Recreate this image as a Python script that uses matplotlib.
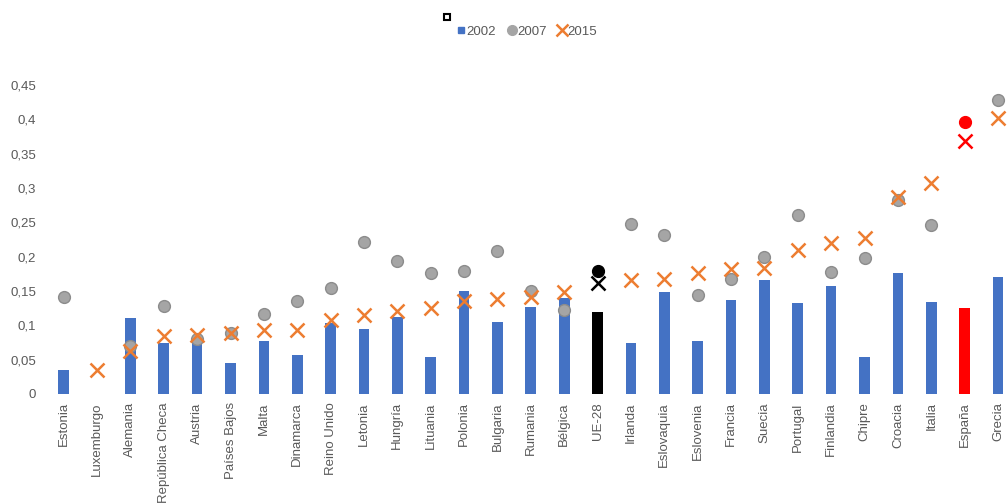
import numpy as np
import matplotlib.pyplot as plt
from matplotlib.lines import Line2D

plt.rcParams['font.family'] = ['Liberation Sans', 'DejaVu Sans']

# Countries, ordered as in the chart
paises = ['Estonia', 'Luxemburgo', 'Alemania', 'República Checa', 'Austria',
          'Países Bajos', 'Malta', 'Dinamarca', 'Reino Unido', 'Letonia',
          'Hungría', 'Lituania', 'Polonia', 'Bulgaria', 'Rumania', 'Bélgica',
          'UE-28', 'Irlanda', 'Eslovaquia', 'Eslovenia', 'Francia', 'Suecia',
          'Portugal', 'Finlandia', 'Chipre', 'Croacia', 'Italia', 'España', 'Grecia']

# Values (nan = not shown)
v2002 = [0.035, np.nan, 0.111, 0.074, 0.074, 0.045, 0.077, 0.057, 0.103, 0.094,
         0.112, 0.054, 0.150, 0.105, 0.126, 0.140, 0.119, 0.074, 0.148, 0.077,
         0.137, 0.166, 0.132, 0.157, 0.054, 0.176, 0.134, 0.125, 0.170]
v2007 = [0.141, np.nan, 0.070, 0.128, 0.080, 0.089, 0.116, 0.135, 0.154, 0.221,
         0.194, 0.176, 0.179, 0.208, 0.150, 0.123, 0.179, 0.248, 0.232, 0.144,
         0.167, 0.200, 0.260, 0.178, 0.198, 0.282, 0.246, 0.396, 0.428]
v2015 = [np.nan, 0.035, 0.063, 0.084, 0.086, 0.089, 0.093, 0.093, 0.108, 0.115,
         0.121, 0.125, 0.135, 0.138, 0.141, 0.149, 0.162, 0.166, 0.167, 0.176,
         0.182, 0.184, 0.210, 0.220, 0.227, 0.287, 0.307, 0.368, 0.402]

blue = '#4472C4'
gray = '#A5A5A5'
orange = '#ED7D31'
txt = '#595959'

# special colours for UE-28 and España
special = {'UE-28': 'black', 'España': '#FF0000'}

fig = plt.figure(figsize=(10.08, 5.04), dpi=100)
ax = fig.add_axes([47 / 1008, 1 - 394 / 504, (1008 - 47) / 1008, (394 - 85) / 504])

x = np.arange(len(paises))
bar_cols = [special.get(p, blue) for p in paises]
ax.bar(x, v2002, width=0.32, color=bar_cols, zorder=2)

for i, p in enumerate(paises):
    c2007 = special.get(p, gray)
    edge = special.get(p, '#8C8C8C')
    c2015 = special.get(p, orange)
    ax.plot(x[i], v2007[i], 'o', ms=8.5, mfc=c2007, mec=edge, mew=1.0, zorder=3)
    ax.plot(x[i], v2015[i], 'x', ms=10, mec=c2015, mew=1.8, zorder=4)

ax.set_xlim(-0.5, 28.3)
ax.set_ylim(0, 0.45)
ax.set_yticks(np.arange(0, 0.451, 0.05))
ax.set_yticklabels(['0', '0,05', '0,1', '0,15', '0,2', '0,25', '0,3', '0,35', '0,4', '0,45'])
ax.set_xticks(x)
ax.set_xticklabels(paises, rotation=90)
ax.tick_params(axis='both', length=0, labelsize=9.5, colors=txt)
ax.tick_params(axis='y', pad=8)
ax.tick_params(axis='x', pad=6)
for s in ax.spines.values():
    s.set_visible(False)

# legend
handles = [Line2D([], [], ls='none', marker='s', ms=5, mfc=blue, mec=blue),
           Line2D([], [], ls='none', marker='o', ms=7, mfc=gray, mec=gray),
           Line2D([], [], ls='none', marker='x', ms=9, mec=orange, mew=1.8)]
fig.legend(handles, ['2002', '2007', '2015'], loc='center', bbox_to_anchor=(0.523, 1 - 32 / 504),
           ncol=3, frameon=False, fontsize=9.5, handlelength=0.6, handletextpad=0.1,
           columnspacing=0.9, labelcolor=txt)

# small square glyph above the legend
fig.add_artist(Line2D([447 / 1008], [1 - 17 / 504], ls='none', marker='s', ms=5,
                      mfc='white', mec='black', mew=1.5, transform=fig.transFigure))

fig.savefig('out.png', dpi=100)
